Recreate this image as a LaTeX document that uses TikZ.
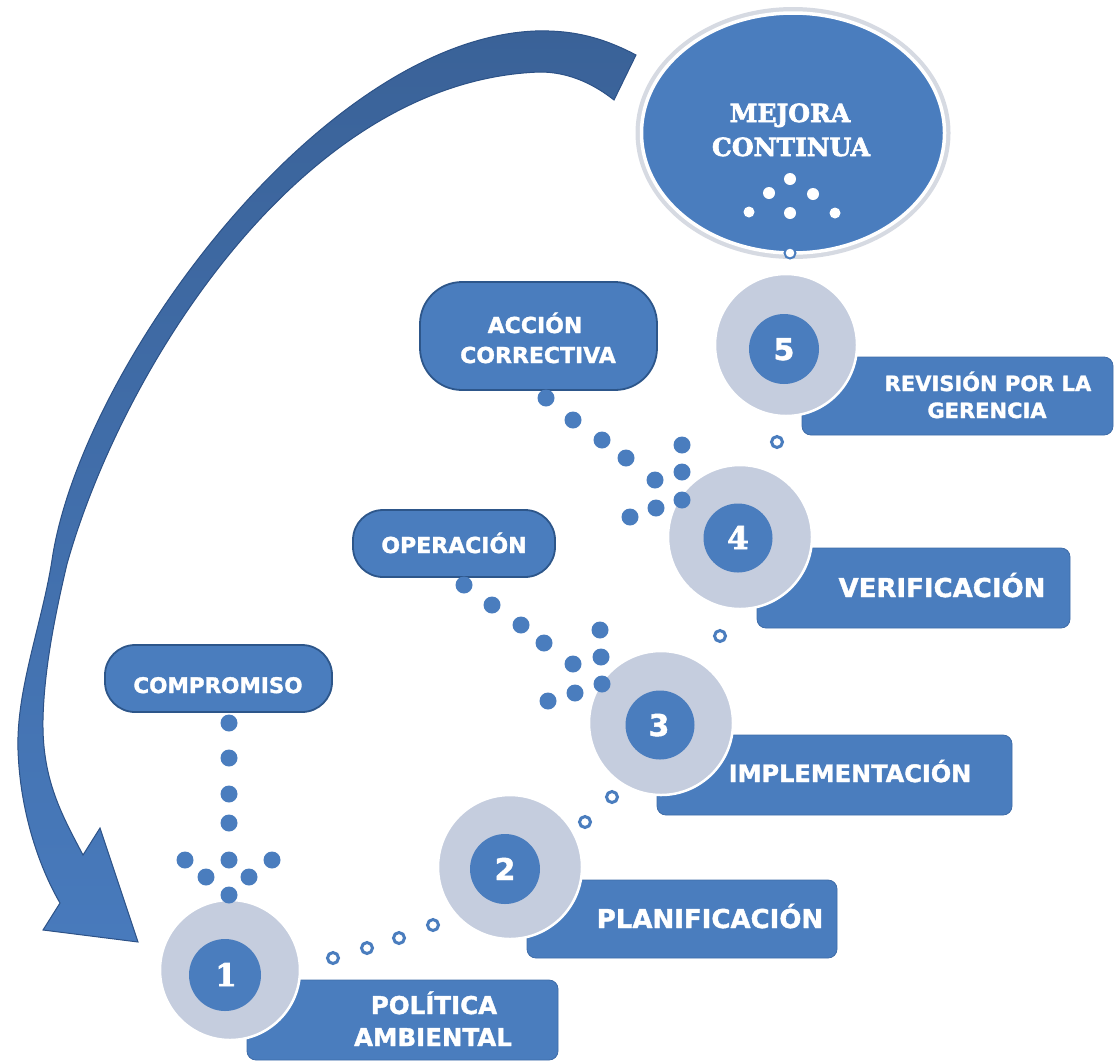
\documentclass[tikz,border=0pt]{standalone}
\usepackage{fontspec}
\setmainfont{DejaVu Sans}[BoldFeatures={FakeBold=1.5}]
\newfontfamily\slab{DejaVu Serif}[BoldFeatures={FakeBold=2.5}]
\usetikzlibrary{shapes.geometric}

\definecolor{boxblue}{RGB}{74,125,190}
\definecolor{boxedge}{RGB}{62,108,168}
\definecolor{pillline}{RGB}{45,86,138}
\definecolor{ringgrey}{RGB}{197,205,222}
\definecolor{arrowtop}{RGB}{58,98,152}
\definecolor{arrowbot}{RGB}{72,122,188}
\definecolor{arrowline}{RGB}{45,82,135}
\definecolor{shadowgrey}{RGB}{214,218,226}

\begin{document}
\begin{tikzpicture}[x=1pt,y=-1pt,
  lbox/.style={rectangle, rounded corners=9pt, fill=boxblue, draw=boxedge, line width=0.8pt, inner sep=0pt},
  pill/.style={rectangle, fill=boxblue, draw=pillline, line width=1.8pt, inner sep=0pt},
  lbl/.style={anchor=base, text=white, inner sep=0pt, font=\bfseries\fontsize{#1}{#1}\selectfont},
  slbl/.style={anchor=base, text=white, inner sep=0pt, font=\slab\bfseries\fontsize{#1}{#1}\selectfont},
  ring/.style={circle, fill=ringgrey, draw=white, line width=2.5pt, minimum size=#1, inner sep=0pt},
  core/.style={circle, fill=boxblue, minimum size=#1, inner sep=0pt},
  bdot/.style={circle, fill=boxblue, minimum size=17pt, inner sep=0pt},
  hdot/.style={circle, fill=white, draw=boxblue, line width=3pt, minimum size=11pt, inner sep=0pt},
  wdot/.style={circle, fill=white, minimum size=#1, inner sep=0pt},
  arrowshape/.style={top color=arrowtop, bottom color=arrowbot, draw=arrowline, line width=1pt, line join=miter}
]
\useasboundingbox (0,0) rectangle (1115,1061);

% curved return arrow
\path[arrowshape] (636,55) .. controls (600,36) and (570,30) .. (535,31)
  .. controls (320,40) and (80,370) .. (52,560)
  .. controls (42,624) and (16,690) .. (18,750)
  .. controls (20,810) and (38,865) .. (60,903)
  -- (43,930) -- (138,942) -- (100,828) -- (83,855)
  .. controls (62,815) and (42,780) .. (43,720)
  .. controls (44,670) and (55,615) .. (67,564)
  .. controls (121,372) and (300,80) .. (540,72)
  .. controls (570,72) and (595,85) .. (614,100) -- cycle;

% Mejora continua
\node[ellipse, draw=shadowgrey, line width=6pt, minimum width=309pt, minimum height=246pt] (mcshadow) at (793,133) {};
\node[ellipse, fill=boxblue, draw=white, line width=3.5pt, minimum width=303pt, minimum height=240pt] (mc) at (793,133) {};
\node[slbl=25] (mct1) at (790,122) {MEJORA};
\node[slbl=25] (mct2) at (791,156) {CONTINUA};
\node[wdot=12pt] (md1) at (790,179) {};
\node[wdot=12pt] (md2) at (769,193) {};
\node[wdot=12pt] (md3) at (813,194) {};
\node[wdot=11pt] (md4) at (749,212) {};
\node[wdot=12pt] (md5) at (790,213) {};
\node[wdot=11pt] (md6) at (835,213) {};
\node[circle, fill=white, draw=boxblue, line width=2pt, minimum size=11pt, inner sep=0pt] (mdb) at (790,253) {};

% label boxes
\node[lbox, minimum width=311pt, minimum height=80pt] (b1) at (402.5,1020) {};
\node[lbox, minimum width=310pt, minimum height=78pt] (b2) at (682,919) {};
\node[lbox, minimum width=355pt, minimum height=80pt] (b3) at (834.5,775) {};
\node[lbox, minimum width=313pt, minimum height=80pt] (b4) at (913.5,588) {};
\node[lbox, minimum width=311pt, minimum height=78pt] (b5) at (957.5,396) {};

\node[lbl=24.5] (t1a) at (434,1014) {POLÍTICA};
\node[lbl=24.5] (t1b) at (433,1046) {AMBIENTAL};
\node[lbl=26] (t2) at (710,928) {PLANIFICACIÓN};
\node[lbl=24] (t3) at (850,782) {IMPLEMENTACIÓN};
\node[lbl=26] (t4) at (942,597) {VERIFICACIÓN};
\node[lbl=21] (t5a) at (988,391) {REVISIÓN POR LA};
\node[lbl=21] (t5b) at (987,418) {GERENCIA};

% numbered rings
\node[ring=140pt] (r1) at (230,970) {};
\node[ring=144pt] (r2) at (510,867) {};
\node[ring=144pt] (r3) at (661,723) {};
\node[ring=144pt] (r4) at (740,537) {};
\node[ring=142pt] (r5) at (786,345) {};
\node[core=72pt] (c1) at (225,975) {};
\node[core=70pt] (c2) at (505,869) {};
\node[core=69pt] (c3) at (660,725) {};
\node[core=69pt] (c4) at (738,538) {};
\node[core=70pt] (c5) at (784,349) {};
\node[slbl=31] (n1) at (226,986) {1};
\node[lbl=30] (n2) at (505,880) {2};
\node[lbl=30] (n3) at (659,736) {3};
\node[slbl=31] (n4) at (738,549) {4};
\node[lbl=30] (n5) at (784,360) {5};

% hollow dots along the path of steps
\node[hdot] (h1) at (333,958) {};
\node[hdot] (h2) at (367,948) {};
\node[hdot] (h3) at (399,938) {};
\node[hdot] (h4) at (433,925) {};
\node[hdot] (h5) at (585,822) {};
\node[hdot] (h6) at (612,797) {};
\node[hdot] (h7) at (720,636) {};
\node[hdot] (h8) at (777,442) {};

% pills
\node[pill, rounded corners=30pt, minimum width=227pt, minimum height=67pt] (pcomp) at (218.5,678.5) {};
\node[pill, rounded corners=30pt, minimum width=202pt, minimum height=67pt] (pop) at (454,543.5) {};
\node[pill, rounded corners=42pt, minimum width=237pt, minimum height=108pt] (pacc) at (538.5,336) {};
\node[lbl=21.5] (tcomp) at (218,693) {COMPROMISO};
\node[lbl=22] (top) at (454,553) {OPERACIÓN};
\node[lbl=22] (tacc1) at (535,333) {ACCIÓN};
\node[lbl=22] (tacc2) at (538,363) {CORRECTIVA};

% dotted connectors: compromiso
\foreach \i/\y in {1/723,2/758,3/794,4/823,5/860,6/895}
  \node[bdot] (cd\i) at (229,\y) {};
\node[bdot] (cs1) at (185,860) {};
\node[bdot] (cs2) at (272,860) {};
\node[bdot] (cs3) at (206,877) {};
\node[bdot] (cs4) at (249,877) {};

% dotted connectors: operacion
\foreach \i/\x/\y in {1/464/585,2/492/605,3/521/625,4/544/643,5/573/664,6/600/630,7/601/657,8/602/684,9/575/693,10/548/701}
  \node[bdot] (od\i) at (\x,\y) {};

% dotted connectors: accion correctiva
\foreach \i/\x/\y in {1/546/398,2/573/420,3/602/440,4/626/458,5/655/480,6/682/445,7/682/472,8/682/500,9/656/508,10/630/517}
  \node[bdot] (ad\i) at (\x,\y) {};

\end{tikzpicture}
\end{document}
